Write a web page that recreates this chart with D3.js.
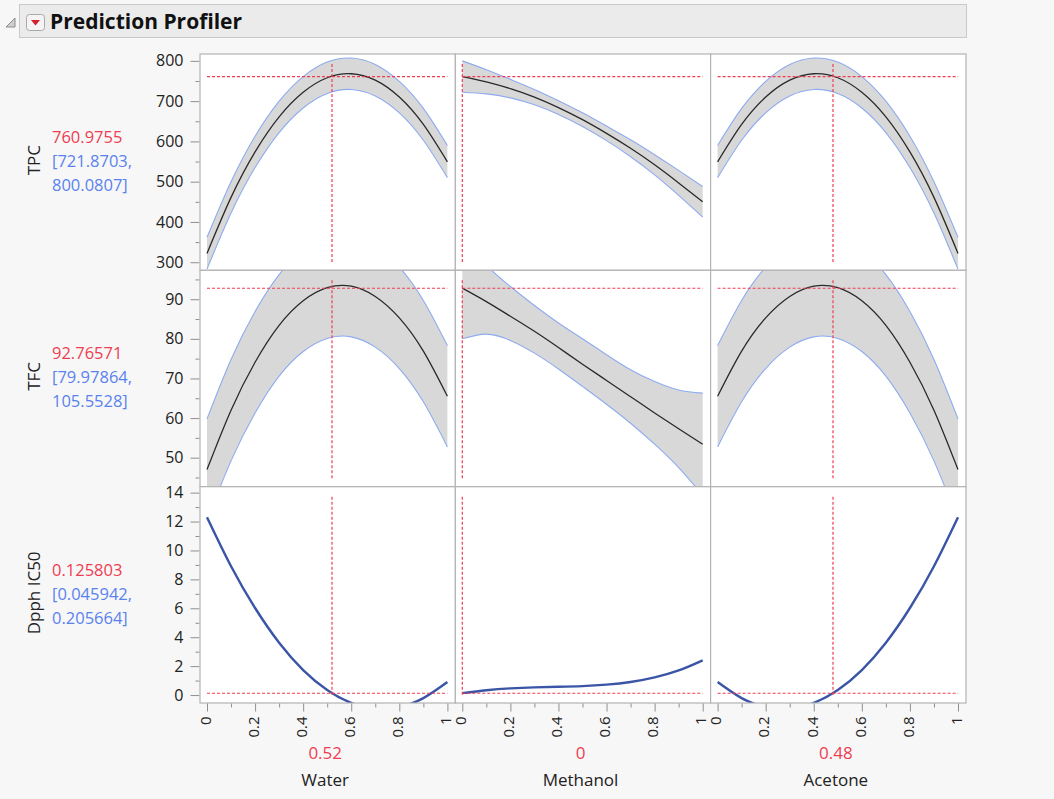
<!DOCTYPE html>
<html><head><meta charset="utf-8">
<script src="https://cdn.jsdelivr.net/npm/d3@7"></script>
<style>
body{margin:0;background:#f7f7f7;}
svg{display:block;font-family:"Open Sans",sans-serif;}
</style>
</head><body>
<svg id="chart" width="1054" height="799"></svg>
<script>
// ---------- data ----------
const title = "Prediction Profiler";
const factors = ["Water", "Methanol", "Acetone"];
const factorCurrent = [0.52, 0, 0.48];
const factorCurrentLabels = ["0.52", "0", "0.48"];
const responses = ["TPC", "TFC", "Dpph IC50"];
const responseCurrent = [760.9755, 92.76571, 0.125803];
const responseValueLabels = ["760.9755", "92.76571", "0.125803"];
const responseCILow = ["[721.8703,", "[79.97864,", "[0.045942,"];
const responseCIHigh = ["800.0807]", "105.5528]", "0.205664]"];

const xGrid = [0, 0.1, 0.2, 0.3, 0.4, 0.5, 0.6, 0.7, 0.8, 0.9, 1];
const xTicks = [0, 0.2, 0.4, 0.6, 0.8, 1];
const xTickLabels = ["0", "0.2", "0.4", "0.6", "0.8", "1"];
const xMinorTicks = [0.1, 0.3, 0.5, 0.7, 0.9];

const tpcTicks = [300, 400, 500, 600, 700, 800];
const tpcMinorTicks = [350, 450, 550, 650, 750];
const tfcTicks = [50, 60, 70, 80, 90];
const tfcMinorTicks = [45, 55, 65, 75, 85, 95];
const dpphTicks = [0, 2, 4, 6, 8, 10, 12, 14];
const dpphMinorTicks = [1, 3, 5, 7, 9, 11, 13];

// TPC
const tpcWater     = [322, 461, 574, 661, 722, 758, 768, 752, 710, 642, 549];
const tpcWaterHi   = [362, 500, 613, 700, 761, 797, 807, 791, 749, 682, 590];
const tpcWaterLo   = [283, 422, 535, 622, 683, 719, 729, 713, 671, 603, 510];
const tpcMethanol   = [761, 748, 731, 710, 684, 654, 620, 583, 542, 497, 450];
const tpcMethanolHi = [800, 778, 754, 729, 701, 671, 638, 604, 567, 528, 488];
const tpcMethanolLo = [722, 718, 708, 691, 667, 637, 602, 562, 517, 466, 412];
const tpcAcetone   = [549, 642, 710, 752, 768, 758, 722, 661, 574, 461, 322];
const tpcAcetoneHi = [590, 682, 749, 791, 807, 797, 761, 700, 613, 500, 362];
const tpcAcetoneLo = [510, 603, 671, 713, 729, 719, 683, 622, 535, 422, 283];

// TFC
const tfcWater     = [47.0, 62.0, 74.1, 83.4, 89.6, 92.9, 93.3, 90.7, 85.3, 76.9, 65.5];
const tfcWaterHi   = [59.8, 74.8, 86.9, 96.2, 102.4, 105.7, 106.1, 103.5, 98.1, 89.7, 78.3];
const tfcWaterLo   = [34.2, 49.2, 61.3, 70.6, 76.8, 80.1, 80.5, 77.9, 72.5, 64.1, 52.7];
const tfcMethanol   = [92.8, 89.4, 85.7, 81.9, 77.8, 73.6, 69.5, 65.4, 61.3, 57.3, 53.4];
const tfcMethanolHi = [105.6, 98.6, 93.2, 88.4, 84.0, 80.0, 76.0, 72.2, 69.2, 67.1, 66.3];
const tfcMethanolLo = [80.0, 81.2, 79.6, 76.4, 72.4, 68.0, 63.5, 58.7, 53.4, 47.5, 40.5];
const tfcAcetone   = [65.5, 76.9, 85.3, 90.7, 93.3, 92.9, 89.6, 83.4, 74.1, 62.0, 47.0];
const tfcAcetoneHi = [78.3, 89.7, 98.1, 103.5, 106.1, 105.7, 102.4, 96.2, 86.9, 74.8, 59.8];
const tfcAcetoneLo = [52.7, 64.1, 72.5, 77.9, 80.5, 80.1, 76.8, 70.6, 61.3, 49.2, 34.2];

// Dpph IC50
const dpphWater    = [12.3, 8.91, 6.02, 3.62, 1.73, 0.35, -0.54, -0.93, -0.83, -0.21, 0.9];
const dpphMethanol = [0.13, 0.33, 0.46, 0.53, 0.57, 0.62, 0.72, 0.9, 1.22, 1.7, 2.4];
const dpphAcetone  = [0.9, -0.21, -0.83, -0.93, -0.54, 0.35, 1.73, 3.62, 6.02, 8.91, 12.3];

// ---------- layout ----------
const svg = d3.select("#chart");
const panelLeft = [200, 455.3, 710.6];
const panelW = 255.4;
const rowTop = [54, 270.3, 486.7];
const rowH = 216.3;
const padL = 7, padR = 8;

const rows = [
  { domain: [280, 817], ticks: tpcTicks, minor: tpcMinorTicks, band: true,
    series: [[tpcWater, tpcWaterLo, tpcWaterHi], [tpcMethanol, tpcMethanolLo, tpcMethanolHi], [tpcAcetone, tpcAcetoneLo, tpcAcetoneHi]] },
  { domain: [42.7, 97.3], ticks: tfcTicks, minor: tfcMinorTicks, band: true,
    series: [[tfcWater, tfcWaterLo, tfcWaterHi], [tfcMethanol, tfcMethanolLo, tfcMethanolHi], [tfcAcetone, tfcAcetoneLo, tfcAcetoneHi]] },
  { domain: [-0.55, 14.41], ticks: dpphTicks, minor: dpphMinorTicks, band: false,
    series: [[dpphWater], [dpphMethanol], [dpphAcetone]] }
];

const RED = "#ee3d52", BLUE_TXT = "#5a82ee", BAND = "#d8d8d8", BAND_EDGE = "#8eabf0";
const TXT = "#222";

// header
svg.append("rect").attr("x", 19.5).attr("y", 4.5).attr("width", 947).attr("height", 33)
  .attr("fill", "#ebebeb").attr("stroke", "#c9c9c9");
svg.append("polygon").attr("points", "6,27 15,27 15,18").attr("fill", "#cfcfcf").attr("stroke", "#8c8c8c").attr("stroke-width", 1);
svg.append("rect").attr("x", 26.5).attr("y", 14.5).attr("width", 18).attr("height", 16).attr("rx", 3)
  .attr("fill", "#f4f4f4").attr("stroke", "#a9a9a9");
svg.append("polygon").attr("points", "31,20 40,20 35.5,25.5").attr("fill", "#d41f2f");
svg.append("text").attr("x", 50).attr("y", 29).attr("font-size", 21).attr("font-weight", "bold")
  .attr("fill", "#111").text(title);

const defs = svg.append("defs");

rows.forEach((row, r) => {
  const top = rowTop[r], bottom = top + rowH;
  const y = d3.scaleLinear().domain(row.domain).range([bottom, top]);

  // y axis
  const ax = svg.append("g").attr("transform", `translate(199.5,0)`);
  ax.call(d3.axisLeft(y).tickValues(row.minor).tickSize(4).tickFormat(""));
  ax.call(g => g.select(".domain").remove());
  const ax2 = svg.append("g").attr("transform", `translate(199.5,0)`);
  ax2.call(d3.axisLeft(y).tickValues(row.ticks).tickSize(9).tickPadding(7).tickFormat(d3.format("d")));
  ax2.select(".domain").remove();
  [ax, ax2].forEach(g => {
    g.selectAll("line").attr("stroke", "#8f8f8f");
    g.selectAll("text").attr("font-size", 16).attr("fill", TXT).attr("font-family", '"Open Sans",sans-serif');
  });

  // row labels
  const cy = top + rowH / 2;
  svg.append("text").attr("transform", `translate(40,${cy - 2}) rotate(-90)`)
    .attr("text-anchor", "middle").attr("font-size", 17).attr("fill", TXT).text(responses[r]);
  svg.append("text").attr("x", 52).attr("y", cy - 19).attr("font-size", 16.5).attr("fill", RED).text(responseValueLabels[r]);
  svg.append("text").attr("x", 52).attr("y", cy + 5).attr("font-size", 16.5).attr("fill", BLUE_TXT).text(responseCILow[r]);
  svg.append("text").attr("x", 52).attr("y", cy + 29).attr("font-size", 16.5).attr("fill", BLUE_TXT).text(responseCIHigh[r]);

  factors.forEach((f, c) => {
    const L = panelLeft[c];
    const x = d3.scaleLinear().domain([0, 1]).range([L + padL, L + panelW - padR]);
    const id = `clip-${r}-${c}`;
    defs.append("clipPath").attr("id", id).append("rect")
      .attr("x", L).attr("y", top).attr("width", panelW).attr("height", rowH);
    svg.append("rect").attr("x", L).attr("y", top).attr("width", panelW).attr("height", rowH).attr("fill", "#fff");
    const g = svg.append("g").attr("clip-path", `url(#${id})`);
    const s = row.series[c];
    const pts = xGrid.map((xv, i) => i);
    if (row.band) {
      const [mean, lo, hi] = s;
      g.append("path").attr("d", d3.area().curve(d3.curveNatural)
          .x(i => x(xGrid[i])).y0(i => y(lo[i])).y1(i => y(hi[i]))(pts))
        .attr("fill", BAND);
      [lo, hi].forEach(arr => {
        g.append("path").attr("d", d3.line().curve(d3.curveNatural)
            .x(i => x(xGrid[i])).y(i => y(arr[i]))(pts))
          .attr("fill", "none").attr("stroke", BAND_EDGE).attr("stroke-width", 1.1);
      });
      g.append("path").attr("d", d3.line().curve(d3.curveNatural)
          .x(i => x(xGrid[i])).y(i => y(mean[i]))(pts))
        .attr("fill", "none").attr("stroke", "#2a2a2a").attr("stroke-width", 1.3);
    } else {
      const [mean] = s;
      g.append("path").attr("d", d3.line().curve(d3.curveNatural)
          .x(i => x(xGrid[i])).y(i => y(mean[i]))(pts))
        .attr("fill", "none").attr("stroke", "#3a55a6").attr("stroke-width", 2.4);
    }
    // reference lines
    g.append("line").attr("x1", x(0)).attr("x2", x(1))
      .attr("y1", y(responseCurrent[r])).attr("y2", y(responseCurrent[r]))
      .attr("stroke", RED).attr("stroke-width", 1.2).attr("stroke-dasharray", "3,2");
    g.append("line").attr("x1", x(factorCurrent[c])).attr("x2", x(factorCurrent[c]))
      .attr("y1", top + 10).attr("y2", bottom - 8)
      .attr("stroke", RED).attr("stroke-width", 1.2).attr("stroke-dasharray", "3,2");
    svg.append("rect").attr("x", L).attr("y", top).attr("width", panelW).attr("height", rowH)
      .attr("fill", "none").attr("stroke", "#b3b3b3").attr("stroke-width", 1.2);

    // x axis for bottom row
    if (r === rows.length - 1) {
      const xa = svg.append("g").attr("transform", `translate(0,${bottom + 0.5})`);
      xa.call(d3.axisBottom(x).tickValues(xMinorTicks).tickSize(4).tickFormat(""));
      xa.select(".domain").remove();
      const xb = svg.append("g").attr("transform", `translate(0,${bottom + 0.5})`);
      xb.call(d3.axisBottom(x).tickValues(xTicks).tickSize(8).tickFormat((d, i) => xTickLabels[i]));
      xb.select(".domain").remove();
      [xa, xb].forEach(gg => gg.selectAll("line").attr("stroke", "#8f8f8f"));
      xb.selectAll("text")
        .attr("transform", "rotate(-90)")
        .attr("x", -13).attr("y", -2).attr("dy", "0.35em")
        .attr("text-anchor", "end").attr("font-size", 15).attr("fill", TXT)
        .attr("font-family", '"Open Sans",sans-serif');
      const cx = (x(0) + x(1)) / 2 - 2;
      svg.append("text").attr("x", cx).attr("y", 759).attr("text-anchor", "middle")
        .attr("font-size", 17).attr("fill", RED).text(factorCurrentLabels[c]);
      svg.append("text").attr("x", cx).attr("y", 786).attr("text-anchor", "middle")
        .attr("font-size", 17).attr("fill", TXT).text(f);
    }
  });
});
</script>
</body></html>
